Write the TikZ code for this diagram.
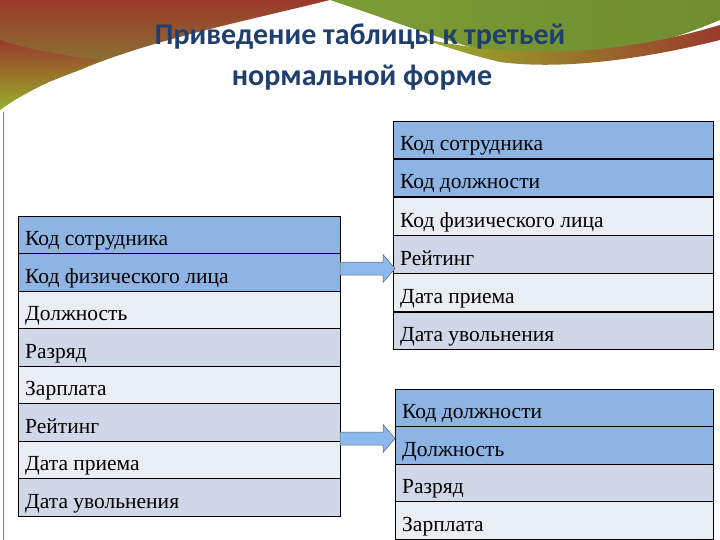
\documentclass[tikz,border=0pt]{standalone}
\usepackage{fontspec}
\setmainfont{Liberation Serif}
\newfontfamily\titlefont{Carlito}
\definecolor{hdr}{HTML}{8EB4E3}
\definecolor{rowA}{HTML}{E9EDF4}
\definecolor{rowB}{HTML}{D0D8E8}
\definecolor{ttl}{HTML}{1F3F6E}
\definecolor{redb}{HTML}{9A3A2C}
\definecolor{grnb}{HTML}{7D9C35}
\definecolor{arr}{HTML}{8DB8EC}
\begin{document}
\begin{tikzpicture}[x=1pt,y=-1pt,
  cell/.style={draw=black,line width=0.8pt,minimum width=#1,minimum height=37.6pt,inner sep=0pt,outer sep=0pt,anchor=north west},
  lbl/.style={font=\fontsize{21.5}{24}\selectfont,anchor=base west,inner sep=0pt},
  blockarrow/.style={fill=arr,draw=black!60,line width=0.5pt}]
\useasboundingbox (0,0) rectangle (720,540);
\fill[white] (0,0) rectangle (720,540);
% banner
\shade[left color=redb,right color=grnb,shading angle=0]
  (0,0) -- (330,0) .. controls (250,20) and (150,40) .. (80,70) .. controls (40,85) and (15,95) .. (0,110) -- cycle;
\shade[top color=redb,bottom color=grnb!80!yellow]
  (0,40) .. controls (30,50) and (60,55) .. (100,60) .. controls (60,75) and (20,95) .. (0,110) -- cycle;
\shade[left color=grnb,right color=grnb!90!black]
  (330,0) -- (720,0) -- (720,20) .. controls (660,45) and (600,60) .. (540,62) .. controls (480,55) and (420,30) .. (330,0) -- cycle;
\shade[left color=grnb!80!yellow,right color=redb]
  (420,38) .. controls (520,60) and (620,55) .. (720,25) -- (720,40) .. controls (640,60) and (560,70) .. (500,62) .. controls (470,55) and (440,45) .. (420,38) -- cycle;
\draw[gray,line width=1pt] (3,112) -- (3,540);
% title
\node[font=\titlefont\bfseries\fontsize{30}{34}\selectfont,text=ttl] (title) at (360,37) {Приведение таблицы к третьей};
\node[font=\titlefont\bfseries\fontsize{30}{34}\selectfont,text=ttl] (title2) at (362,78) {нормальной форме};
% left table
\foreach \i/\c in {0/hdr,1/hdr,2/rowA,3/rowB,4/rowA,5/rowB,6/rowA,7/rowB}{
  \node[cell=322pt,fill=\c] (L\i) at (18,216+37.5*\i) {};
}
\foreach \i/\t in {0/Код сотрудника,1/Код физического лица,2/Должность,3/Разряд,4/Зарплата,5/Рейтинг,6/Дата приема,7/Дата увольнения}{
  \node[lbl] (Lt\i) at ([xshift=7pt,yshift=8pt]L\i.south west) {\t};
}
% right top table
\foreach \i/\c in {0/hdr,1/hdr,2/rowA,3/rowB,4/rowA,5/rowB}{
  \node[cell=320pt,fill=\c] (R\i) at (393,121+38.2*\i) {};
}
\foreach \i/\t in {0/Код сотрудника,1/Код должности,2/Код физического лица,3/Рейтинг,4/Дата приема,5/Дата увольнения}{
  \node[lbl] (Rt\i) at ([xshift=7pt,yshift=8pt]R\i.south west) {\t};
}
% right bottom table
\foreach \i/\c in {0/hdr,1/hdr,2/rowB,3/rowA}{
  \node[cell=318pt,fill=\c] (B\i) at (395,389+37.6*\i) {};
}
\foreach \i/\t in {0/Код должности,1/Должность,2/Разряд,3/Зарплата}{
  \node[lbl] (Bt\i) at ([xshift=7pt,yshift=8pt]B\i.south west) {\t};
}
% block arrows
\coordinate (a1) at (340,255.5);
\coordinate (a2) at (340,425.5);
\foreach \a in {a1,a2}{
  \draw[blockarrow] ([yshift=-6.5pt]\a) -- ++(43,0) -- ++(0,-7.5) -- ++(12,14) -- ++(-12,14) -- ++(0,-7.5) -- ++(-43,0) -- cycle;
}
\end{tikzpicture}
\end{document}
